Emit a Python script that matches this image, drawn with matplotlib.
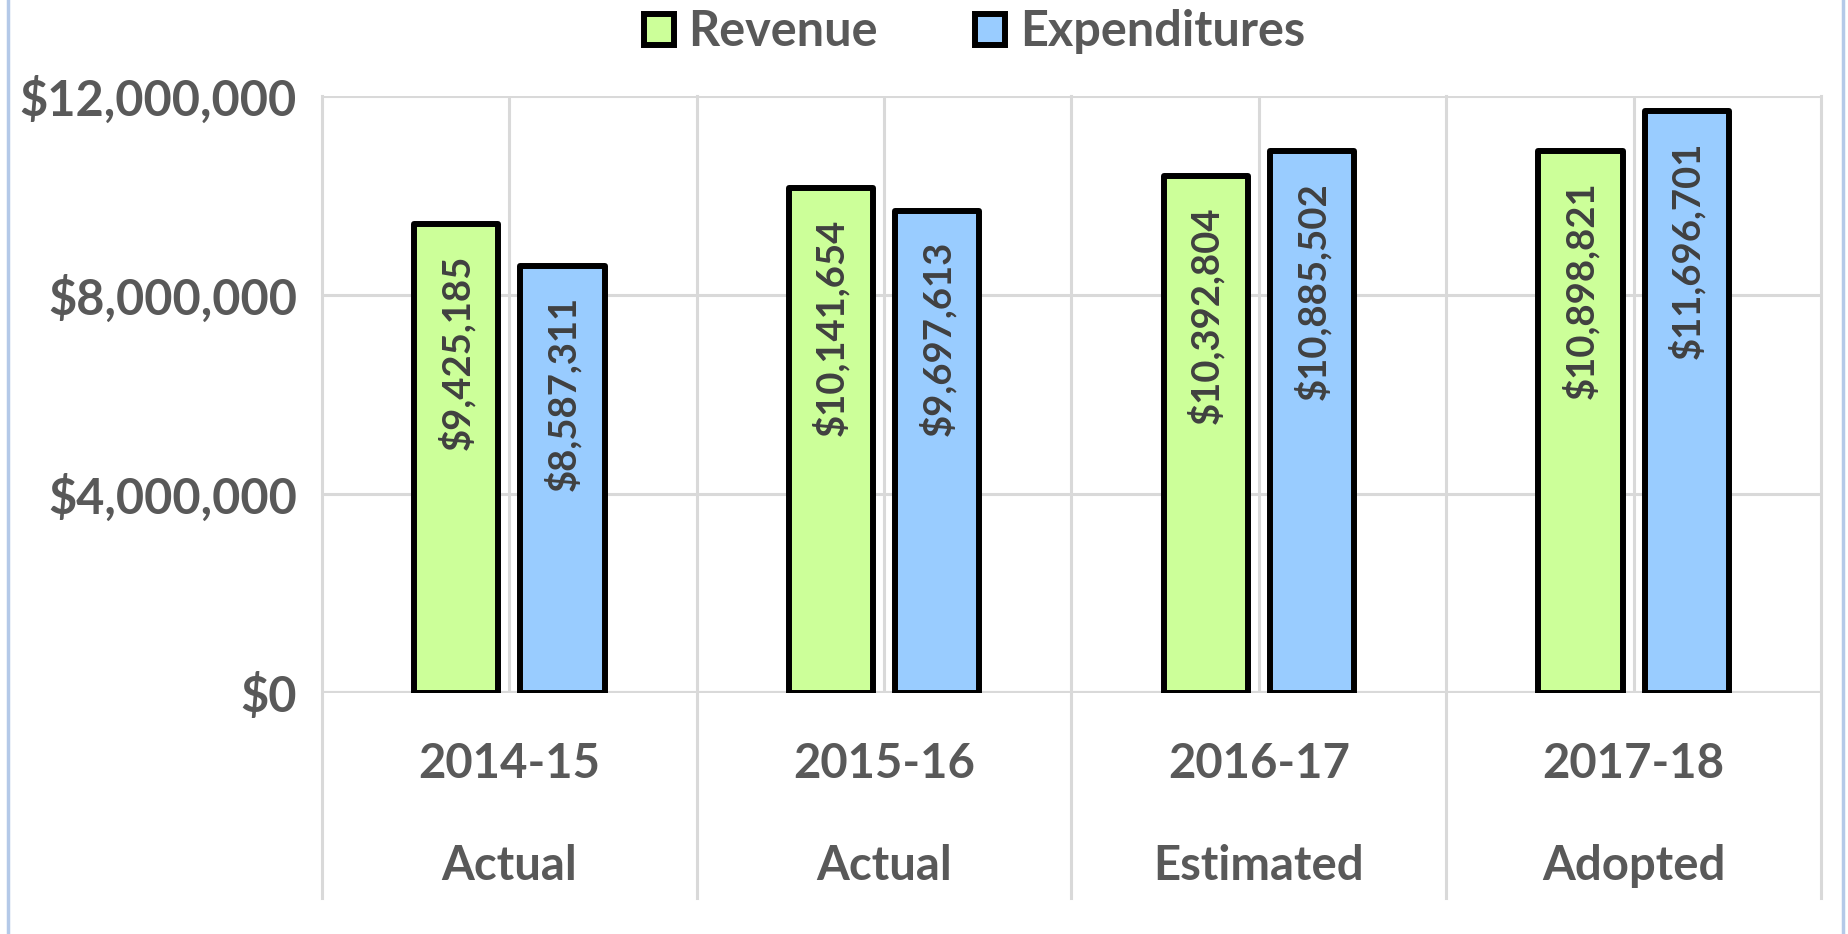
import matplotlib
matplotlib.use("Agg")
import matplotlib.pyplot as plt
from matplotlib.lines import Line2D
import numpy as np

years = ["2014-15", "2015-16", "2016-17", "2017-18"]
stages = ["Actual", "Actual", "Estimated", "Adopted"]
revenue = [9425185, 10141654, 10392804, 10898821]
expenditures = [8587311, 9697613, 10885502, 11696701]
yticks = [0, 4000000, 8000000, 12000000]

W, H = 1849, 934
fig = plt.figure(figsize=(W / 100, H / 100), dpi=100)
fig.patch.set_facecolor("white")

FONT = ["Lato", "DejaVu Sans"]
TXT = "#595959"
LBL = "#404040"
GRID = "#d9d9d9"

left_px, right_px, top_px, bot_px = 322, 1821, 96, 693
ax = fig.add_axes([left_px / W, 1 - bot_px / H, (right_px - left_px) / W, (bot_px - top_px) / H])
ax.set_xlim(-0.5, 3.5)
ax.set_ylim(0, 12000000)

x = np.arange(len(years))
bw = 0.225
off = 0.142
b1 = ax.bar(x - off, revenue, bw, color="#ccff99", edgecolor="black", linewidth=4.3, zorder=3,
            label="Revenue")
b2 = ax.bar(x + off, expenditures, bw, color="#99ccff", edgecolor="black", linewidth=4.3, zorder=3,
            label="Expenditures")
for bars in (b1, b2):
    for p in bars:
        p.set_joinstyle("round")

for bars, vals in ((b1, revenue), (b2, expenditures)):
    for p, v in zip(bars, vals):
        ax.annotate("${:,.0f}".format(v), (p.get_x() + p.get_width() / 2, v),
                    xytext=(0, -22), textcoords="offset points", rotation=90,
                    ha="center", va="top", fontsize=27.5, color=LBL, family=FONT,
                    fontweight="bold", zorder=4)

ax.set_yticks(yticks)
ax.set_yticklabels(["${:,.0f}".format(v) for v in yticks], fontsize=35, fontweight="bold",
                   color=TXT, family=FONT)
ax.tick_params(axis="y", length=0, pad=18)
ax.set_xticks(x)
ax.set_xticklabels([])
ax.tick_params(axis="x", length=0)
ax.grid(True, color=GRID, linewidth=2.2, zorder=0)
ax.axhline(0, color=GRID, linewidth=3, zorder=2)
for s in ax.spines.values():
    s.set_visible(False)

xt = ax.get_xaxis_transform()
ybot = (bot_px - 898) / (bot_px - top_px)
for b in np.arange(-0.5, 4.0, 1.0):
    ax.add_line(Line2D([b, b], [1, ybot], transform=xt, color=GRID, linewidth=2.2,
                       clip_on=False, zorder=1))

y_year = (bot_px - 764) / (bot_px - top_px)
y_stage = (bot_px - 866) / (bot_px - top_px)
for xi, yr, st in zip(x, years, stages):
    ax.text(xi, y_year, yr, transform=xt, ha="center", va="center", fontsize=34,
            fontweight="bold", color=TXT, family=FONT)
    ax.text(xi, y_stage, st, transform=xt, ha="center", va="center", fontsize=34,
            fontweight="bold", color=TXT, family=FONT)

leg = fig.legend(handles=[b1, b2], labels=["Revenue", "Expenditures"], loc="center",
                 bbox_to_anchor=(0.527, 1 - 32 / H), ncol=2, frameon=False,
                 prop={"family": FONT, "weight": "bold", "size": 35},
                 handlelength=0.62, handleheight=0.62, handletextpad=0.3, columnspacing=2.0)
for t in leg.get_texts():
    t.set_color(TXT)

for xp in (8, 1843):
    fig.add_artist(Line2D([xp / W, xp / W], [0, 1], transform=fig.transFigure,
                          color="#b4c9e8", linewidth=2.5))

fig.savefig("out.png", dpi=100, facecolor="white")
